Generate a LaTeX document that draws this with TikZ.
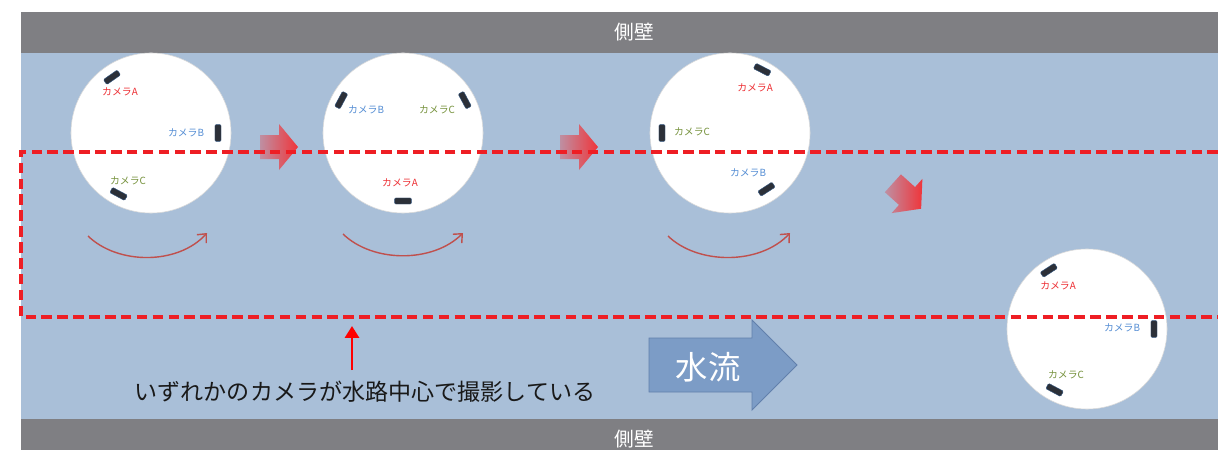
\documentclass[tikz,border=0pt]{standalone}
\usepackage{fontspec}
\setmainfont{Noto Sans CJK JP}
\usetikzlibrary{arrows.meta,calc}

\definecolor{wallgray}{RGB}{127,127,131}
\definecolor{water}{RGB}{169,191,216}
\definecolor{linered}{RGB}{238,30,36}
\definecolor{turnred}{RGB}{192,80,77}
\definecolor{flowblue}{RGB}{124,156,198}
\definecolor{flowedge}{RGB}{98,128,172}
\definecolor{camdark}{RGB}{44,48,56}
\definecolor{camA}{RGB}{237,45,50}
\definecolor{camB}{RGB}{84,141,212}
\definecolor{camC}{RGB}{118,146,60}

\tikzset{
  wall/.style={fill=wallgray,draw=none},
  walltext/.style={text=white,font=\fontsize{14}{16}\selectfont},
  pipe/.style={circle,fill=white,draw=black!15,line width=0.4pt,minimum size=4cm,inner sep=0pt},
  cam/.style={rectangle,fill=camdark,draw=camB!60!black,line width=0.3pt,minimum width=12pt,minimum height=4.3pt,inner sep=0pt,rounded corners=0.8pt},
  camlabel/.style={font=\fontsize{7}{8}\selectfont,inner sep=1pt},
  centerline/.style={draw=linered,line width=2.3pt,dash pattern=on 7.5pt off 3.8pt},
  turn/.style={draw=turnred,line width=1pt,-{Straight Barb[length=5pt,width=9pt]}},
  pointer/.style={draw=red,line width=2pt,-{Triangle[length=8.5pt,width=10pt]}},
  gradarrow/.pic={
    \shade[left color=red!25!water, right color=linered!90!white]
      (-19,-12) -- (0,-12) -- (0,-23) -- (19,0) -- (0,23) -- (0,12) -- (-19,12) -- cycle;
  }
}

\begin{document}
\begin{tikzpicture}[x=0.025cm,y=0.025cm]
\useasboundingbox (0,0) rectangle (1218,450);

% channel and side walls
\fill[water] (21,30) rectangle (1218,397);
\fill[wall] (21,397) rectangle (1218,438);
\fill[wall] (21,0) rectangle (1218,31);
\node[walltext] (walltop) at (634,418) {側壁};
\node[walltext] (wallbottom) at (634,11) {側壁};

% pipe sections
\node[pipe] (p1) at (151,317) {};
\node[pipe] (p2) at (403,317) {};
\node[pipe] (p3) at (730,317) {};
\node[pipe] (p4) at (1087,121) {};

% cameras: first pipe
\node[cam,rotate=35] (p1a) at ($(p1)+(125:68)$) {};
\node[cam,rotate=90] (p1b) at ($(p1)+(0:67)$) {};
\node[cam,rotate=152] (p1c) at ($(p1)+(242:69)$) {};
\node[camlabel,text=camA] (l1a) at ($(p1)+(-31,41)$) {カメラA};
\node[camlabel,text=camB] (l1b) at ($(p1)+(35,0)$) {カメラB};
\node[camlabel,text=camC] (l1c) at ($(p1)+(-23,-48)$) {カメラC};

% cameras: second pipe
\node[cam,rotate=0] (p2a) at ($(p2)+(270:68)$) {};
\node[cam,rotate=62] (p2b) at ($(p2)+(152:70)$) {};
\node[cam,rotate=-62] (p2c) at ($(p2)+(28:70)$) {};
\node[camlabel,text=camA] (l2a) at ($(p2)+(-3,-50)$) {カメラA};
\node[camlabel,text=camB] (l2b) at ($(p2)+(-37,23)$) {カメラB};
\node[camlabel,text=camC] (l2c) at ($(p2)+(34,23)$) {カメラC};

% cameras: third pipe
\node[cam,rotate=-27] (p3a) at ($(p3)+(63:71)$) {};
\node[cam,rotate=90] (p3c) at ($(p3)+(180:68)$) {};
\node[cam,rotate=33] (p3b) at ($(p3)+(303:67)$) {};
\node[camlabel,text=camA] (l3a) at ($(p3)+(25,45)$) {カメラA};
\node[camlabel,text=camC] (l3c) at ($(p3)+(-38,1)$) {カメラC};
\node[camlabel,text=camB] (l3b) at ($(p3)+(18,-40)$) {カメラB};

% cameras: fourth pipe
\node[cam,rotate=33] (p4a) at ($(p4)+(123:70)$) {};
\node[cam,rotate=90] (p4b) at ($(p4)+(0:67)$) {};
\node[cam,rotate=152] (p4c) at ($(p4)+(242:69)$) {};
\node[camlabel,text=camA] (l4a) at ($(p4)+(-29,43)$) {カメラA};
\node[camlabel,text=camB] (l4b) at ($(p4)+(35,1)$) {カメラB};
\node[camlabel,text=camC] (l4c) at ($(p4)+(-21,-46)$) {カメラC};

% rotation arrows
\coordinate (t1s) at (88,214);  \coordinate (t1e) at (207,217);
\coordinate (t2s) at (343,216); \coordinate (t2e) at (463,217);
\coordinate (t3s) at (668,214); \coordinate (t3e) at (790,217);
\draw[turn] (t1s) .. controls (118,185) and (178,185) .. (t1e);
\draw[turn] (t2s) .. controls (373,187) and (433,187) .. (t2e);
\draw[turn] (t3s) .. controls (698,185) and (760,185) .. (t3e);

% movement arrows
\pic at (279,303) {gradarrow};
\pic at (579,303) {gradarrow};
\pic[rotate=-42] at (907,254) {gradarrow};

% centre zone
\draw[centerline] (1218,298) -- (21,298) -- (21,133) -- (1218,133);

% note
\coordinate (ptail) at (352,80);
\coordinate (phead) at (352,124);
\draw[pointer] (ptail) -- (phead);
\node[font=\fontsize{16.4}{20}\selectfont,text=black!90] (note) at (365,58) {いずれかのカメラが水路中心で撮影している};

% water flow
\draw[fill=flowblue,draw=flowedge,line width=0.6pt]
  (649,112) -- (752,112) -- (752,130) -- (797,85) -- (752,40) -- (752,58) -- (649,58) -- cycle;
\node[text=white,font=\fontsize{23}{26}\selectfont] (flow) at (708,83) {水流};

\end{tikzpicture}
\end{document}
